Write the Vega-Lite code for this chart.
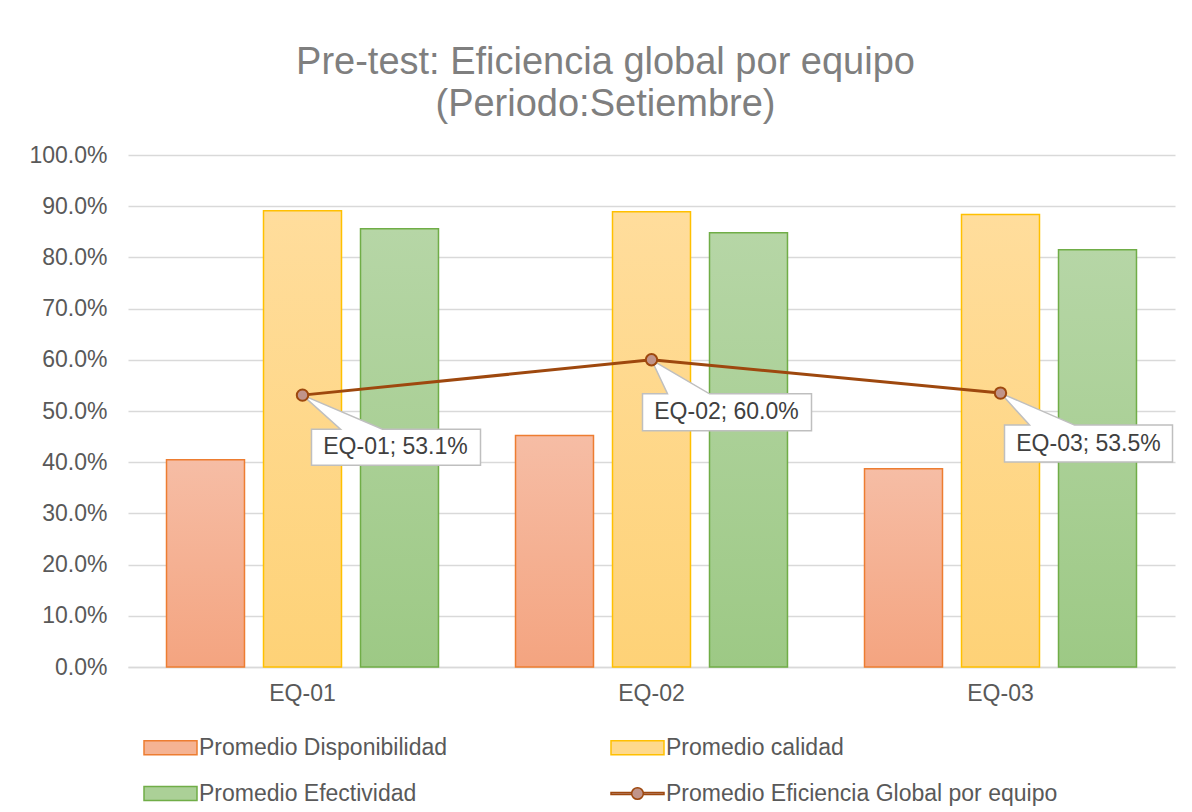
{
  "$schema": "https://vega.github.io/schema/vega-lite/v6.json",
  "width": 1047,
  "height": 512,
  "autosize": {"type": "none"},
  "padding": {"left": 128, "top": 155, "right": 17, "bottom": 145},
  "background": "white",
  "config": {"font": "Liberation Sans", "view": {"stroke": null}},
  "title": {
    "text": ["Pre-test: Eficiencia global por equipo", "(Periodo:Setiembre)"],
    "fontSize": 38,
    "font": "Liberation Sans",
    "fontWeight": "normal",
    "color": "#7F7F7F",
    "anchor": "middle",
    "dx": -46,
    "offset": 20,
    "lineHeight": 42
  },
  "data": {
    "values": [
      {"equipo": "EQ-01", "serie": "Promedio Disponibilidad", "valor": 0.405},
      {"equipo": "EQ-01", "serie": "Promedio calidad", "valor": 0.891},
      {"equipo": "EQ-01", "serie": "Promedio Efectividad", "valor": 0.856},
      {"equipo": "EQ-01", "serie": "Promedio Eficiencia Global por equipo", "valor": 0.531},
      {"equipo": "EQ-02", "serie": "Promedio Disponibilidad", "valor": 0.452},
      {"equipo": "EQ-02", "serie": "Promedio calidad", "valor": 0.889},
      {"equipo": "EQ-02", "serie": "Promedio Efectividad", "valor": 0.848},
      {"equipo": "EQ-02", "serie": "Promedio Eficiencia Global por equipo", "valor": 0.600},
      {"equipo": "EQ-03", "serie": "Promedio Disponibilidad", "valor": 0.387},
      {"equipo": "EQ-03", "serie": "Promedio calidad", "valor": 0.884},
      {"equipo": "EQ-03", "serie": "Promedio Efectividad", "valor": 0.815},
      {"equipo": "EQ-03", "serie": "Promedio Eficiencia Global por equipo", "valor": 0.535}
    ]
  },
  "encoding": {
    "x": {
      "field": "equipo",
      "type": "nominal",
      "title": null,
      "scale": {"paddingInner": 0, "paddingOuter": 0},
      "axis": {
        "labelAngle": 0,
        "domainColor": "#D9D9D9",
        "domainWidth": 1.3,
        "ticks": false,
        "grid": false,
        "labelPadding": 15,
        "labelFontSize": 23,
        "labelColor": "#595959",
        "labelFont": "Liberation Sans"
      }
    },
    "y": {
      "field": "valor",
      "type": "quantitative",
      "title": null,
      "scale": {"domain": [0, 1]},
      "axis": {
        "format": ".1%",
        "values": [0, 0.1, 0.2, 0.3, 0.4, 0.5, 0.6, 0.7, 0.8, 0.9, 1],
        "domain": false,
        "ticks": false,
        "labelPadding": 21,
        "labelFontSize": 23,
        "labelColor": "#595959",
        "labelFont": "Liberation Sans",
        "gridColor": "#D9D9D9",
        "gridWidth": 1.3
      }
    }
  },
  "layer": [
    {
      "transform": [{"filter": "datum.serie != 'Promedio Eficiencia Global por equipo'"}],
      "mark": {"type": "bar", "strokeWidth": 1.5},
      "encoding": {
        "xOffset": {
          "field": "serie",
          "type": "nominal",
          "scale": {
            "domain": ["Promedio Disponibilidad", "Promedio calidad", "Promedio Efectividad"],
            "paddingInner": 0.196,
            "paddingOuter": 0.397
          }
        },
        "fill": {
          "field": "serie",
          "type": "nominal",
          "scale": {
            "domain": ["Promedio Disponibilidad", "Promedio calidad", "Promedio Efectividad", "Promedio Eficiencia Global por equipo"],
            "range": ["#F5B393", "#FED98C", "#ABD097", "#C0948A"]
          },
          "condition": [
            {"test": "datum.serie == 'Promedio Disponibilidad'", "value": {"gradient": "linear", "x1": 0, "y1": 0, "x2": 0, "y2": 1, "stops": [{"offset": 0, "color": "#F6BDA5"}, {"offset": 1, "color": "#F4A480"}]}},
            {"test": "datum.serie == 'Promedio calidad'", "value": {"gradient": "linear", "x1": 0, "y1": 0, "x2": 0, "y2": 1, "stops": [{"offset": 0, "color": "#FFDD9C"}, {"offset": 1, "color": "#FED277"}]}},
            {"test": "datum.serie == 'Promedio Efectividad'", "value": {"gradient": "linear", "x1": 0, "y1": 0, "x2": 0, "y2": 1, "stops": [{"offset": 0, "color": "#B6D6A6"}, {"offset": 1, "color": "#9DC985"}]}}
          ],
          "legend": {
            "orient": "none",
            "direction": "horizontal",
            "legendX": 15,
            "legendY": 565,
            "columns": 2,
            "columnPadding": 160,
            "rowPadding": 6,
            "title": null,
            "padding": 0,
            "symbolSize": 2809,
            "symbolType": {"expr": "datum.value == 'Promedio Eficiencia Global por equipo' ? 'M-1,-0.04H-0.22V0.04H-1Z M0.22,-0.04H1V0.04H0.22Z M-0.22,0A0.22,0.22 0 1,1 0.22,0A0.22,0.22 0 1,1 -0.22,0Z' : 'M-1,-0.26H1V0.26H-1Z'"},
            "symbolStrokeColor": {"expr": "datum.value == 'Promedio Disponibilidad' ? '#ED7D31' : datum.value == 'Promedio calidad' ? '#FFC000' : datum.value == 'Promedio Efectividad' ? '#70AD47' : '#9E480E'"},
            "symbolStrokeWidth": 1.5,
            "labelFontSize": 23,
            "labelColor": "#595959",
            "labelFont": "Liberation Sans",
            "labelOffset": 1,
            "labelLimit": 700
          }
        },
        "stroke": {
          "condition": [
            {"test": "datum.serie == 'Promedio Disponibilidad'", "value": "#ED7D31"},
            {"test": "datum.serie == 'Promedio calidad'", "value": "#FFC000"}
          ],
          "value": "#70AD47"
        }
      }
    },
    {
      "transform": [{"filter": "datum.serie == 'Promedio Eficiencia Global por equipo'"}],
      "mark": {"type": "line", "stroke": "#9E480E", "strokeWidth": 3}
    },
    {
      "transform": [{"filter": "datum.serie == 'Promedio Eficiencia Global por equipo'"}],
      "mark": {"type": "point", "fill": "white", "stroke": "#BFBFBF", "strokeWidth": 1.5, "opacity": 1, "size": 4},
      "encoding": {
        "shape": {
          "condition": [
            {"test": "datum.equipo == 'EQ-01'", "value": "M0,0L80,34H178V70H9V34H38Z"},
            {"test": "datum.equipo == 'EQ-02'", "value": "M0,0L58,34H160V71H-9V34H16Z"}
          ],
          "value": "M0,0L74,32H172V69H4V32H29Z"
        }
      }
    },
    {
      "transform": [{"filter": "datum.serie == 'Promedio Eficiencia Global por equipo'"}],
      "mark": {"type": "point", "filled": true, "fill": "#C0948A", "stroke": "#9E480E", "strokeWidth": 2, "opacity": 1, "size": 130}
    },
    {
      "transform": [{"filter": "datum.serie == 'Promedio Eficiencia Global por equipo'"}],
      "mark": {
        "type": "text",
        "fontSize": 23,
        "font": "Liberation Sans",
        "color": "#404040",
        "align": "center",
        "baseline": "middle",
        "dx": {"expr": "datum.equipo == 'EQ-01' ? 93 : datum.equipo == 'EQ-02' ? 75 : 88"},
        "dy": {"expr": "datum.equipo == 'EQ-03' ? 51 : 52"},
        "text": {"expr": "datum.equipo + '; ' + format(datum.valor, '.1%')"}
      }
    }
  ]
}
